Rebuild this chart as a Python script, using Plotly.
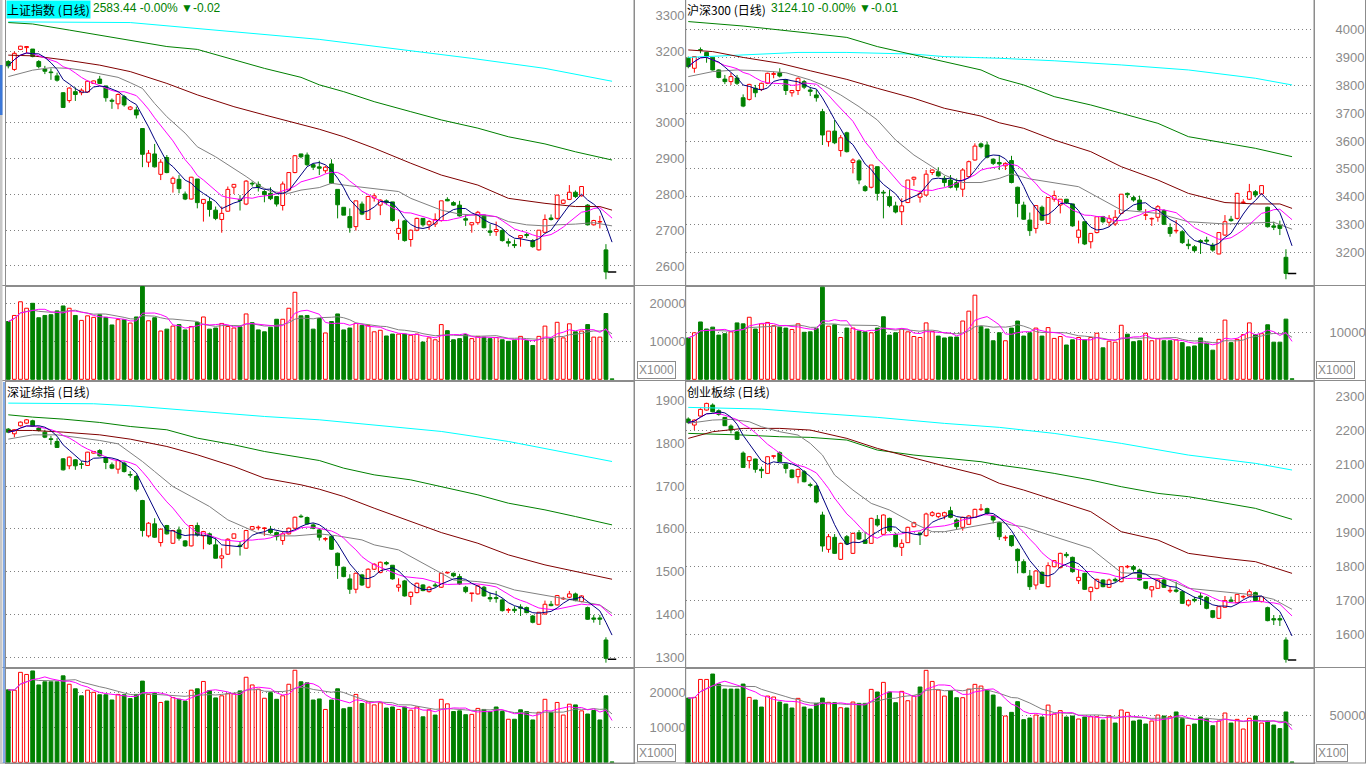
import plotly.graph_objects as go
import pandas as pd

# ======================= DATA =======================
titles = ["上证指数 (日线)", "沪深300 (日线)", "深证综指 (日线)", "创业板综 (日线)"]
quotes = ["2583.44 -0.00% ▼-0.02", "3124.10 -0.00% ▼-0.01", "", ""]
vol_units = ["X1000", "X1000", "X1000", "X100"]

# ---- 上证指数 ----
open_a = [3171,3149,3205,3210,3206,3171,3150,3142,3131,3084, 3062,3087,3084,3086,3110,3122,3103,3063,3053,3073,
          3038,3036,2984,2890,2913,2856,2903,2831,2842,2801, 2787,2843,2775,2780,2756,2730,2753,2820,2786,2773,
          2831,2828,2808,2803,2794,2769,2812,2861,2913,2910, 2883,2877,2866,2885,2814,2764,2738,2710,2773,2730,
          2790,2770,2782,2779,2691,2726,2674,2700,2733,2715, 2717,2727,2786,2777,2770,2732,2715,2721,2742,2698,
          2696,2699,2668,2660,2679,2688,2671,2645,2694,2734, 2733,2775,2786,2806,2796,2770,2715,2723,2645,2583.44]
high_a = [3175,3199,3215,3214,3206,3175,3159,3152,3140,3086, 3099,3099,3096,3118,3118,3131,3103,3068,3082,3078,
          3047,3045,2984,2924,2941,2898,2910,2850,2854,2808, 2849,2843,2787,2792,2766,2766,2822,2828,2798,2840,
          2836,2836,2812,2820,2794,2836,2861,2910,2913,2917, 2887,2894,2880,2898,2814,2764,2761,2782,2780,2796,
          2803,2786,2786,2779,2730,2729,2702,2735,2733,2729, 2747,2782,2792,2781,2782,2744,2721,2754,2744,2717,
          2724,2705,2677,2674,2685,2693,2675,2700,2744,2744, 2798,2786,2826,2811,2822,2773,2729,2740,2661,2583.44]
low_a = [3152,3145,3203,3194,3183,3152,3136,3120,3115,3042, 3056,3061,3077,3084,3109,3108,3059,3039,3038,3045,
         3035,3012,2876,2876,2875,2840,2859,2805,2803,2784, 2786,2761,2724,2738,2728,2693,2752,2801,2755,2770,
         2822,2808,2778,2784,2766,2755,2809,2859,2901,2879, 2868,2854,2859,2830,2733,2742,2693,2699,2742,2730,
         2780,2742,2770,2724,2673,2668,2654,2697,2710,2701, 2709,2724,2781,2768,2738,2712,2693,2715,2705,2684,
         2684,2668,2654,2650,2654,2678,2651,2643,2693,2727, 2729,2773,2784,2790,2794,2713,2713,2705,2563,2583.44]
close_a = [3159,3194,3214,3213,3185,3157,3144,3140,3119,3043, 3097,3079,3091,3116,3117,3110,3070,3060,3079,3050,
           3044,3022,2912,2915,2877,2890,2861,2845,2816,2787, 2848,2777,2786,2758,2733,2747,2814,2828,2783,2837,
           2829,2820,2800,2788,2773,2829,2861,2908,2905,2883, 2876,2873,2876,2831,2771,2742,2707,2782,2745,2794,
           2796,2784,2777,2727,2705,2671,2700,2733,2715,2724, 2730,2782,2782,2770,2740,2728,2721,2750,2707,2694,
           2702,2671,2664,2657,2685,2685,2654,2700,2730,2730, 2798,2784,2806,2794,2822,2715,2727,2724,2583.46,2583.44]
vol_a = [15200,16800,20400,18700,20000,16200,16800,17000,18000,19300, 18700,16800,15500,16700,16300,17000,16300,14300,15700,15700,
         14800,16400,24400,15400,16200,12700,13200,14000,14400,13000, 13900,15000,16400,13200,13500,14700,13900,13500,13800,17200,
         14900,13000,12500,13700,15800,15800,18700,22900,16700,16800, 13200,16000,12200,15200,17200,13000,13500,14700,14200,14200,
         12500,12900,11400,11900,11900,11900,11600,11900,9800,10900, 10400,14400,12800,10400,10700,11800,10700,11300,11100,10700,
         11000,10400,10000,10300,11300,10200,8900,11300,14000,10700, 15000,10900,14600,12500,12700,14400,11100,11100,17300,100]
ma20_a_idx = [0,4,7,10,12,15,18,20,22,24,26,29,31,34,37,39,41,43,46,48,51,53,56,60,64,66,69,71,74,77,80,82,85,88,90,93,96,99]
ma20_a_val = [3129,3147,3154,3152,3147,3138,3127,3112,3096,3054,3017,2971,2933,2905,2873,2850,2826,2808,2803,2812,
              2819,2831,2824,2817,2808,2789,2770,2756,2745,2742,2738,2724,2715,2712,2715,2717,2721,2712]
ma60_a_idx = [0,4,10,15,20,26,31,37,42,48,51,55,60,66,71,77,82,88,93,97,99]
ma60_a_val = [3189,3187,3174,3161,3143,3110,3078,3045,3022,2994,2982,2961,2929,2887,2854,2826,2789,2775,2766,2766,2756]
ma120_a_idx = [0,4,10,15,20,26,31,37,42,48,51,55,60,66,71,77,82,88,93,99]
ma120_a_val = [3280,3276,3259,3245,3231,3213,3205,3177,3152,3127,3106,3087,3059,3031,3008,2985,2961,2941,2919,2896]
ma250_a_idx = [0,20,51,66,76,88,99]
ma250_a_val = [3282,3280,3233,3201,3180,3152,3116]

# ---- 沪深300 ----
open_b = [3898,3862,3929,3919,3900,3856,3823,3814,3827,3756, 3750,3790,3786,3808,3840,3846,3820,3774,3782,3814,
          3784,3766,3706,3598,3636,3566,3630,3523,3529,3436, 3434,3508,3416,3400,3367,3346,3379,3463,3398,3406,
          3487,3490,3466,3460,3451,3427,3472,3532,3590,3586, 3535,3523,3511,3530,3434,3370,3316,3286,3362,3304,
          3391,3370,3391,3374,3254,3310,3238,3271,3328,3308, 3302,3340,3412,3397,3388,3333,3320,3326,3350,3289,
          3277,3274,3229,3220,3242,3244,3226,3194,3262,3319, 3322,3379,3391,3418,3410,3362,3295,3298,3182,3124.10]
high_b = [3904,3906,3937,3921,3901,3858,3838,3846,3838,3768, 3806,3802,3810,3846,3850,3862,3823,3784,3829,3820,
          3794,3784,3716,3636,3676,3622,3634,3538,3535,3442, 3514,3508,3424,3424,3382,3394,3460,3472,3422,3496,
          3498,3506,3475,3478,3466,3502,3530,3592,3595,3598, 3538,3550,3524,3547,3436,3382,3343,3370,3368,3398,
          3422,3391,3391,3374,3314,3310,3268,3330,3331,3334, 3352,3409,3415,3404,3404,3355,3325,3370,3355,3304,
          3316,3280,3247,3226,3247,3256,3234,3273,3334,3331, 3414,3391,3446,3424,3440,3364,3310,3314,3211,3124.10]
low_b = [3862,3846,3916,3882,3854,3826,3805,3802,3802,3722, 3746,3758,3780,3805,3826,3829,3766,3760,3766,3787,
         3762,3742,3586,3580,3589,3544,3559,3484,3445,3418, 3430,3386,3322,3362,3340,3298,3377,3439,3379,3402,
         3478,3472,3436,3430,3422,3400,3470,3530,3574,3538, 3514,3496,3496,3448,3326,3317,3259,3268,3313,3302,
         3382,3340,3374,3292,3232,3226,3214,3268,3304,3292, 3295,3337,3395,3382,3350,3316,3295,3310,3298,3256,
         3268,3230,3211,3199,3194,3230,3202,3193,3259,3310, 3318,3374,3388,3398,3408,3289,3280,3262,3103,3124.10]
close_b = [3868,3904,3927,3906,3856,3829,3814,3832,3808,3726, 3804,3774,3808,3844,3843,3834,3782,3782,3826,3794,
           3779,3756,3622,3636,3594,3612,3562,3532,3460,3422, 3514,3412,3413,3368,3345,3367,3460,3470,3412,3481,
           3496,3475,3451,3434,3434,3496,3526,3582,3580,3542, 3520,3518,3520,3451,3376,3319,3278,3368,3316,3397,
           3404,3391,3379,3295,3280,3230,3268,3328,3310,3322, 3326,3409,3407,3388,3352,3335,3322,3364,3301,3268,
           3279,3235,3224,3206,3237,3240,3208,3271,3310,3314, 3412,3381,3418,3406,3440,3292,3290,3286,3124.11,3124.10]
vol_b = [8800,9900,12200,10700,11100,9400,9700,10100,12000,11800, 13200,10700,11800,12100,11400,11100,10900,10600,11800,10000,
         10100,10800,19600,11300,11600,8900,10900,10900,10300,10100, 9900,10900,13300,9400,9900,10700,10100,9100,8900,12000,
         10200,9200,8800,9000,9000,12400,14500,17900,11200,10700, 8200,9900,8200,10900,12400,9200,9900,10900,9200,11000,
         8700,9100,7300,8400,8900,8400,8900,9800,6700,8100, 7900,11500,9600,8000,8200,9800,8200,8700,8200,8200,
         8400,7800,6900,7100,8800,7700,6200,8500,12600,7800, 8500,9500,12000,9500,9700,11600,7900,7900,12800,100]
ma20_b_idx = [0,4,8,12,16,20,22,25,28,31,34,37,40,42,45,48,51,53,56,60,64,67,71,77,82,88,93,96,99]
ma20_b_val = [3832,3850,3856,3853,3846,3820,3802,3766,3724,3676,3604,3550,3508,3478,3451,3451,3466,3482,3464,3451,
              3436,3400,3352,3340,3310,3302,3307,3308,3283]
ma60_b_idx = [0,4,9,15,20,26,31,37,42,48,51,55,60,66,71,77,82,88,93,97,99]
ma60_b_val = [3928,3922,3901,3880,3853,3822,3790,3754,3718,3690,3666,3646,3604,3562,3508,3460,3412,3379,3374,3374,3358]
ma120_b_idx = [0,9,20,26,31,37,42,48,51,55,60,66,71,77,82,88,93,99]
ma120_b_val = [4030,4014,3988,3973,3940,3910,3886,3856,3826,3802,3760,3730,3700,3664,3616,3592,3574,3544]
ma250_b_idx = [0,9,15,18,26,37,42,51,60,71,82,93,99]
ma250_b_val = [3901,3910,3916,3919,3919,3913,3904,3898,3889,3874,3856,3826,3802]

# ---- 深证综指 ----
open_c = [1833.1,1822.2,1840.9,1847.1,1852.6,1835.5,1826.1,1810.5,1804.3,1763.7, 1747.4,1761.4,1752.0,1748.2,1777.0,1783.2,1766.9,1749.7,1739.6,1753.6,
          1727.1,1722.4,1666.3,1583.7,1611.8,1568.1,1607.9,1566.5,1597.7,1572.0, 1560.3,1607.9,1583.7,1588.4,1562.7,1531.5,1540.8,1578.2,1561.9,1554.9,
          1599.3,1602.4,1600.9,1599.3,1591.5,1572.8,1588.4,1601.6,1629.7,1626.6, 1609.4,1597.7,1575.9,1582.1,1543.2,1510.4,1483.2,1459.0,1492.5,1463.7,
          1505.8,1498.0,1521.4,1515.1,1463.7,1478.5,1441.9,1451.2,1469.1,1453.5, 1469.1,1463.7,1497.2,1496.4,1488.6,1463.7,1448.9,1448.1,1463.7,1439.5,
          1439.5,1434.1,1409.9,1412.2,1417.7,1416.1,1396.6,1377.2,1401.3,1423.9, 1422.4,1436.4,1440.3,1448.1,1430.2,1416.1,1392.0,1392.0,1340.5,1295.3]
high_c = [1835.5,1833.0,1851.0,1856.5,1855.0,1839.3,1831.6,1817.5,1812.1,1765.2, 1769.1,1763.0,1758.3,1780.0,1782.0,1786.3,1767.7,1755.2,1761.4,1757.5,
          1734.9,1726.3,1667.9,1616.0,1625.0,1601.6,1609.4,1597.7,1605.5,1574.0, 1609.0,1614.9,1595.4,1591.5,1578.0,1554.9,1578.2,1589.0,1570.5,1597.7,
          1606.0,1607.9,1604.0,1607.0,1593.8,1594.0,1603.2,1629.0,1634.0,1629.0, 1613.3,1600.1,1580.6,1583.7,1544.8,1512.0,1494.0,1498.0,1494.9,1508.0,
          1519.8,1523.7,1524.5,1515.1,1484.7,1480.9,1453.5,1474.6,1470.7,1466.8, 1474.6,1497.0,1499.5,1497.9,1494.9,1466.8,1450.4,1469.1,1466.8,1451.2,
          1455.1,1438.0,1415.4,1419.3,1423.9,1418.5,1399.0,1406.0,1432.5,1431.7, 1445.7,1441.2,1455.1,1451.2,1444.9,1418.5,1399.0,1399.0,1346.8,1295.3]
low_c = [1823.6,1814.0,1839.3,1845.5,1838.0,1827.6,1812.1,1796.5,1789.5,1736.4, 1739.6,1738.0,1740.4,1747.0,1776.0,1769.1,1739.6,1739.6,1729.0,1731.7,
         1719.3,1687.3,1582.0,1580.0,1578.9,1558.8,1586.8,1564.9,1572.8,1558.0, 1559.0,1582.1,1552.5,1562.7,1531.0,1508.0,1539.3,1577.0,1537.7,1553.3,
         1598.0,1597.0,1583.7,1588.4,1573.0,1562.7,1586.8,1600.0,1625.8,1609.4, 1599.3,1572.8,1571.2,1551.0,1483.2,1487.0,1448.1,1449.6,1466.8,1461.3,
         1504.3,1496.4,1515.1,1481.6,1453.5,1441.9,1422.4,1449.6,1454.3,1451.2, 1462.9,1462.0,1495.6,1487.1,1469.1,1449.6,1429.9,1446.5,1441.9,1429.3,
         1427.7,1406.8,1403.6,1403.6,1396.6,1402.8,1379.4,1376.0,1400.0,1419.3, 1420.8,1434.0,1438.0,1431.0,1428.6,1387.3,1381.0,1375.6,1287.5,1295.3]
close_c = [1826.1,1831.6,1849.5,1854.9,1839.3,1830.0,1814.4,1809.0,1790.3,1738.0, 1767.6,1747.4,1750.5,1779.3,1780.9,1770.7,1755.2,1741.9,1759.9,1734.0,
           1725.6,1692.8,1596.2,1613.3,1580.6,1599.3,1588.4,1596.2,1578.2,1560.3, 1607.9,1586.0,1593.8,1565.0,1531.5,1537.0,1575.9,1588.4,1558.8,1596.2,
           1605.5,1604.0,1602.4,1591.5,1582.1,1588.4,1601.6,1627.3,1628.1,1611.8, 1601.6,1580.6,1577.5,1552.5,1514.3,1488.6,1459.0,1496.4,1469.1,1505.8,
           1517.5,1522.1,1518.2,1483.2,1469.1,1443.4,1452.0,1473.0,1455.9,1463.7, 1466.8,1496.4,1498.7,1490.2,1471.5,1453.5,1450.4,1466.8,1443.4,1436.4,
           1437.2,1409.1,1411.5,1409.1,1414.6,1404.4,1381.8,1405.2,1423.9,1420.8, 1444.2,1438.0,1448.1,1432.5,1443.4,1388.9,1388.9,1388.9,1297.7,1295.3]
vol_c = [20700,20600,25700,25100,26100,22100,23000,23000,23000,24700, 22300,21000,19000,20600,20000,19300,19300,17800,19400,19300,
         18200,19400,23200,19400,19700,17100,17500,18500,18000,17500, 20600,21000,23100,20500,18400,19000,19600,19600,20400,24300,
         22100,20900,18300,19900,18000,19000,22300,26300,23000,22700, 17800,18100,15100,17800,21000,15300,15700,19400,16800,17300,
         16400,17000,15500,15800,15100,15800,14900,15800,13000,15000, 13500,18000,16700,14500,14700,13600,13700,15400,15100,14500,
         15800,14500,12300,12300,15000,14500,12100,14300,18000,14300, 17100,13500,16600,16400,14700,13800,14800,12100,19000,100]
ma20_c_idx = [0,4,8,12,15,18,20,22,24,27,30,33,36,39,41,44,47,51,54,58,60,64,67,70,73,77,80,83,88,93,97,99]
ma20_c_val = [1809.7,1819.8,1819.8,1812.0,1806.6,1798.8,1778.5,1757.5,1734.1,1699.0,1675.7,1652.3,1621.1,1601.6,1590.0,1583.7,
              1583.7,1588.4,1583.7,1574.3,1562.7,1551.0,1527.6,1504.2,1480.8,1476.9,1471.5,1457.4,1445.7,1432.5,1422.4,1402.9]
ma60_c_idx = [0,4,9,15,20,26,31,37,42,48,51,55,60,66,71,77,82,88,93,99]
ma60_c_val = [1830.0,1830.0,1826.1,1819.8,1809.7,1792.6,1773.1,1745.8,1718.5,1703.0,1692.8,1675.7,1648.4,1617.2,1591.5,1566.5,1539.3,1515.9,1500.3,1482.4]
ma120_c_idx = [0,4,9,15,20,26,31,37,42,48,51,55,60,66,71,77,82,88,93,99]
ma120_c_val = [1866.6,1861.2,1856.5,1848.7,1839.3,1831.6,1812.1,1796.5,1780.9,1767.6,1759.8,1741.9,1726.3,1714.6,1699.0,1679.6,1660.1,1644.5,1628.9,1609.4]
ma250_c_idx = [0,14,20,31,42,51,60,71,82,93,99]
ma250_c_val = [1893.9,1892.4,1887.7,1874.4,1862.7,1854.9,1843.2,1827.7,1804.3,1773.1,1757.5]

# ---- 创业板综 ----
open_d = [2233.1,2215.4,2241.9,2259.5,2274.2,2257.6,2238.0,2212.5,2194.9,2133.0, 2110.6,2115.5,2085.1,2073.3,2123.3,2134.1,2100.8,2083.1,2063.5,2078.2,
          2040.0,2036.1,1950.8,1849.9,1885.2,1820.5,1887.1,1838.1,1898.9,1877.3, 1867.5,1938.1,1894.0,1941.0,1894.0,1855.8,1869.5,1916.5,1896.9,1890.1,
          1949.9,1946.0,1948.0,1963.6,1936.1,1914.6,1923.4,1944.0,1966.5,1969.5, 1948.0,1928.3,1883.2,1890.1,1849.9,1813.6,1771.5,1745.0,1782.3,1740.1,
          1798.9,1796.0,1835.2,1826.4,1757.8,1779.3,1725.4,1735.2,1759.7,1738.2, 1761.7,1754.8,1798.0,1798.9,1789.1,1754.8,1730.3,1735.2,1759.7,1727.4,
          1730.3,1725.4,1686.2,1702.9,1712.7,1708.8,1669.6,1647.0,1679.4,1701.0, 1693.1,1709.8,1712.7,1722.5,1696.0,1678.4,1646.1,1646.1,1583.3,1524.5]
high_d = [2238.0,2232.0,2264.5,2281.0,2279.1,2261.5,2239.0,2217.4,2197.8,2137.9, 2124.2,2116.5,2093.0,2123.3,2126.2,2138.0,2102.8,2085.1,2087.0,2083.1,
          2045.9,2039.0,1960.6,1895.0,1895.0,1869.5,1892.0,1898.9,1906.7,1901.8, 1943.0,1950.8,1952.7,1943.0,1898.9,1879.3,1916.5,1931.2,1901.8,1957.7,
          1962.6,1957.7,1960.6,1975.3,1941.0,1946.0,1950.8,1969.5,1983.2,1972.4, 1950.8,1931.2,1891.0,1892.0,1852.8,1820.5,1789.1,1789.1,1785.2,1811.7,
          1818.5,1840.0,1842.0,1828.4,1789.1,1781.3,1740.1,1763.6,1761.7,1763.6, 1766.6,1800.0,1803.8,1803.8,1793.1,1756.8,1742.1,1761.7,1763.6,1739.1,
          1754.8,1728.4,1703.0,1710.7,1722.5,1712.7,1671.6,1682.0,1712.7,1710.7, 1718.6,1714.7,1732.3,1725.4,1712.7,1681.3,1656.8,1656.8,1591.2,1524.5]
low_d = [2218.3,2200.7,2240.0,2258.0,2252.6,2242.9,2213.0,2190.9,2171.3,2089.0, 2088.0,2075.3,2059.5,2072.0,2116.5,2107.0,2073.3,2058.7,2043.9,2046.8,
         2032.2,1985.1,1843.0,1840.0,1836.1,1818.5,1862.6,1836.1,1877.3,1865.6, 1866.5,1916.5,1892.0,1901.8,1855.8,1830.3,1868.5,1914.6,1862.6,1887.1,
         1946.0,1941.0,1938.1,1941.0,1906.7,1904.8,1921.4,1943.0,1962.6,1950.8, 1926.3,1877.3,1874.4,1857.7,1779.3,1779.3,1730.3,1732.3,1748.0,1738.2,
         1797.0,1794.0,1825.4,1781.3,1748.0,1730.3,1699.0,1732.3,1738.2,1736.1, 1752.8,1753.0,1794.0,1784.2,1757.8,1732.3,1708.8,1733.2,1736.1,1721.5,
         1722.5,1689.1,1681.3,1694.1,1686.2,1673.5,1647.1,1646.0,1678.0,1694.1, 1692.0,1705.0,1710.7,1697.0,1694.1,1638.2,1627.4,1624.5,1516.7,1524.5]
close_d = [2223.3,2230.1,2261.5,2279.1,2254.6,2246.8,2213.5,2200.7,2173.3,2090.9, 2122.3,2085.1,2081.2,2122.3,2125.3,2107.6,2088.0,2061.6,2085.1,2048.8,
           2038.0,1989.1,1859.7,1887.1,1838.1,1867.5,1865.6,1896.9,1880.3,1867.5, 1941.0,1921.4,1950.8,1904.8,1857.7,1867.5,1914.6,1928.3,1893.0,1953.8,
           1957.7,1955.7,1957.7,1944.0,1916.5,1944.0,1948.0,1967.5,1968.5,1955.7, 1936.1,1887.1,1885.2,1860.7,1816.6,1781.3,1740.1,1786.2,1749.9,1801.9,
           1816.6,1838.1,1831.3,1784.2,1767.6,1732.3,1738.2,1761.7,1740.1,1759.7, 1757.8,1798.9,1799.9,1791.1,1759.7,1735.2,1740.1,1759.7,1738.2,1729.4,
           1726.4,1691.1,1699.0,1699.0,1708.8,1676.4,1650.0,1681.3,1699.0,1697.0, 1717.6,1711.7,1725.4,1699.0,1710.7,1640.2,1642.1,1642.1,1526.5,1524.5]
vol_d = [67900,68600,87600,87600,93300,82700,77400,77400,77400,82700, 68600,65800,58400,70000,69000,63700,61600,57400,67600,58400,
         56300,62300,67900,63400,63000,57700,57400,63700,62300,62300, 77100,74300,84500,74300,63000,75000,65100,70000,79600,97200,
         85500,76400,70000,75700,68300,68300,77400,82400,80600,76400, 71100,58400,48900,52800,64100,45100,46800,50000,47900,60500,
         51000,54600,47900,48900,45800,47900,48200,48200,44700,49300, 41500,55300,52800,43600,44700,40500,43600,50000,48900,48200,
         53200,46100,39100,40500,47900,46500,38700,43600,52100,41500, 45400,35200,46500,48900,41500,43600,39400,35600,53200,300]
ma20_d_idx = [0,4,7,10,12,15,18,20,22,24,27,30,33,37,40,42,45,48,51,53,55,60,66,71,77,82,88,93,96,99]
ma20_d_val = [2220.3,2230.1,2232.1,2225.2,2210.5,2195.8,2186.0,2161.5,2127.2,2068.4,2024.3,1985.1,1965.5,1926.3,1901.8,
              1901.8,1911.6,1921.4,1931.2,1921.4,1916.5,1887.1,1852.8,1781.3,1774.4,1735.2,1725.4,1715.6,1702.9,1673.5]
ma60_d_idx = [0,4,9,15,20,26,31,37,42,48,51,55,60,66,71,77,82,88,93,99]
ma60_d_val = [2176.2,2195.8,2205.6,2205.6,2200.7,2176.2,2146.8,2117.4,2094.9,2068.4,2044.0,2024.3,1994.9,1960.6,1901.8,1877.3,1838.1,1823.4,1813.6,1779.3]
ma120_d_idx = [0,4,9,15,20,26,31,37,42,48,51,55,60,66,71,77,82,88,93,99]
ma120_d_val = [2190.9,2189.0,2186.0,2181.1,2179.2,2171.3,2141.9,2127.2,2117.4,2107.6,2097.8,2088.0,2073.3,2053.7,2034.1,2014.5,2004.7,1985.1,1970.4,1938.1]
ma250_d_idx = [0,12,20,31,42,51,60,71,82,93,99]
ma250_d_val = [2267.4,2262.5,2251.7,2238.0,2220.3,2208.6,2190.9,2161.5,2127.2,2102.7,2083.1]

# axis labels / grid
price_ticks = [[2600,2700,2800,2900,3000,3100,3200,3300],
               [3200,3300,3400,3500,3600,3700,3800,3900,4000],
               [1300,1400,1500,1600,1700,1800,1900],
               [1600,1700,1800,1900,2000,2100,2200,2300]]
price_grid = [[2600,2700,2800,2900,3000,3100,3200],
              [3200,3300,3400,3500,3600,3700,3800,3900,4000],
              [1300,1400,1500,1600,1700,1800],
              [1600,1700,1800,1900,2000,2100,2200]]
vol_ticks = [[10000,20000],[10000],[10000,20000],[50000]]

# ======================= STYLE / GEOMETRY =======================
W, H = 1366, 768
RED, GRN, NAVY, MAG, GRAY, MAROON, MAGREEN, CYAN = "#FF0000", "#008000", "#000080", "#FF00FF", "#808080", "#800000", "#008000", "#00FFFF"
BORDER = "#8C8C8C"
XR = [-0.42, 102.6]
# pixel boxes: (left, right, price_top, price_bottom, vol_bottom)
boxes = [(5.7, 634, 0, 285.5, 380),
         (685.7, 1314, 0, 285.5, 380),
         (5.7, 634, 381.5, 667.5, 763),
         (685.7, 1314, 381.5, 667.5, 763)]
price_ranges = [[2545.5, 3343], [3080.6, 4107.6], [1276.2, 1944.4], [1502.4, 2343.5]]
vol_ranges = [[-184, 24684], [-149, 19957], [-200, 27086], [-740, 100211]]

panels = [
    dict(o=open_a, h=high_a, l=low_a, c=close_a, v=vol_a,
         mas=[(ma250_a_idx, ma250_a_val, CYAN), (ma120_a_idx, ma120_a_val, MAGREEN),
              (ma60_a_idx, ma60_a_val, MAROON), (ma20_a_idx, ma20_a_val, GRAY)]),
    dict(o=open_b, h=high_b, l=low_b, c=close_b, v=vol_b,
         mas=[(ma250_b_idx, ma250_b_val, CYAN), (ma120_b_idx, ma120_b_val, MAGREEN),
              (ma60_b_idx, ma60_b_val, MAROON), (ma20_b_idx, ma20_b_val, GRAY)]),
    dict(o=open_c, h=high_c, l=low_c, c=close_c, v=vol_c,
         mas=[(ma250_c_idx, ma250_c_val, CYAN), (ma120_c_idx, ma120_c_val, MAGREEN),
              (ma60_c_idx, ma60_c_val, MAROON), (ma20_c_idx, ma20_c_val, GRAY)]),
    dict(o=open_d, h=high_d, l=low_d, c=close_d, v=vol_d,
         mas=[(ma250_d_idx, ma250_d_val, CYAN), (ma120_d_idx, ma120_d_val, MAGREEN),
              (ma60_d_idx, ma60_d_val, MAROON), (ma20_d_idx, ma20_d_val, GRAY)]),
]

fig = go.Figure()
layout_axes = {}


def sfx(n):
    return "" if n == 1 else str(n)


for k, p in enumerate(panels):
    npx, nvx = 2 * k + 1, 2 * k + 2
    xa_p, ya_p = "x" + sfx(npx), "y" + sfx(npx)
    xa_v, ya_v = "x" + sfx(nvx), "y" + sfx(nvx)
    o, hi, lo, c, v = p["o"], p["h"], p["l"], p["c"], p["v"]
    n = len(c)
    idx = list(range(n))
    up = [i for i in idx if c[i] > o[i]]
    dn = [i for i in idx if c[i] < o[i]]
    flat = [i for i in idx if c[i] == o[i]]

    # wicks
    for group, col in ((up, RED), (dn, GRN)):
        xs, ys = [], []
        for i in group:
            top, bot = max(o[i], c[i]), min(o[i], c[i])
            if hi[i] > top:
                xs += [i, i, None]; ys += [hi[i], top, None]
            if lo[i] < bot:
                xs += [i, i, None]; ys += [bot, lo[i], None]
        fig.add_trace(go.Scatter(x=xs, y=ys, mode="lines", line=dict(color=col, width=1),
                                 xaxis=xa_p, yaxis=ya_p, hoverinfo="skip", showlegend=False))
    # bodies
    fig.add_trace(go.Bar(x=up, base=[o[i] for i in up], y=[c[i] - o[i] for i in up], width=0.62,
                         marker=dict(color="white", line=dict(color=RED, width=1)),
                         xaxis=xa_p, yaxis=ya_p, hoverinfo="skip", showlegend=False))
    fig.add_trace(go.Bar(x=dn, base=[c[i] for i in dn], y=[o[i] - c[i] for i in dn], width=0.62,
                         marker=dict(color=GRN, line=dict(color=GRN, width=1)),
                         xaxis=xa_p, yaxis=ya_p, hoverinfo="skip", showlegend=False))
    fig.add_trace(go.Scatter(x=flat, y=[c[i] for i in flat], mode="markers",
                             marker=dict(symbol="line-ew", size=6, line=dict(color="black", width=1.5)),
                             xaxis=xa_p, yaxis=ya_p, hoverinfo="skip", showlegend=False))

    # moving averages
    for mi, mv, col in p["mas"]:
        fig.add_trace(go.Scatter(x=mi, y=mv, mode="lines", line=dict(color=col, width=1),
                                 xaxis=xa_p, yaxis=ya_p, hoverinfo="skip", showlegend=False))
    cs = pd.Series(c)
    for win, col in ((10, MAG), (5, NAVY)):
        fig.add_trace(go.Scatter(x=idx, y=cs.rolling(win, min_periods=1).mean().tolist(), mode="lines",
                                 line=dict(color=col, width=1),
                                 xaxis=xa_p, yaxis=ya_p, hoverinfo="skip", showlegend=False))

    # volume
    vup = up + [i for i in flat if i > 0 and c[i] >= c[i - 1]]
    vdn = dn + [i for i in flat if i > 0 and c[i] < c[i - 1]]
    fig.add_trace(go.Bar(x=vup, y=[v[i] for i in vup], width=0.62,
                         marker=dict(color="white", line=dict(color=RED, width=1)),
                         xaxis=xa_v, yaxis=ya_v, hoverinfo="skip", showlegend=False))
    fig.add_trace(go.Bar(x=vdn, y=[v[i] for i in vdn], width=0.62,
                         marker=dict(color=GRN, line=dict(color=GRN, width=1)),
                         xaxis=xa_v, yaxis=ya_v, hoverinfo="skip", showlegend=False))
    vs = pd.Series(v)
    for win, col in ((10, GRAY), (5, MAG)):
        fig.add_trace(go.Scatter(x=idx, y=vs.rolling(win, min_periods=1).mean().tolist(), mode="lines",
                                 line=dict(color=col, width=1),
                                 xaxis=xa_v, yaxis=ya_v, hoverinfo="skip", showlegend=False))

    # axes
    L, R, T, B, VB = boxes[k]
    xdom = [L / W, R / W]
    common_x = dict(domain=xdom, range=XR, showticklabels=False, showgrid=False, zeroline=False,
                    showline=True, mirror=True, linecolor=BORDER, linewidth=1, ticks="",
                    fixedrange=True, automargin=False)
    layout_axes["xaxis" + sfx(npx)] = dict(common_x, anchor=ya_p)
    layout_axes["xaxis" + sfx(nvx)] = dict(common_x, anchor=ya_v)
    layout_axes["yaxis" + sfx(npx)] = dict(
        domain=[1 - B / H, 1 - T / H], range=price_ranges[k], anchor=xa_p, side="right",
        tickmode="array", tickvals=price_ticks[k], ticktext=[str(t) for t in price_ticks[k]],
        ticks="", ticklabelstandoff=18, tickfont=dict(family="Liberation Sans", size=13, color="#8A8A8A"),
        showgrid=False, zeroline=False, showline=True, mirror=True, linecolor=BORDER, linewidth=1,
        minor=dict(tickmode="array", tickvals=price_grid[k], showgrid=True, gridcolor="#808080",
                   griddash="1px,3px", gridwidth=1, ticks=""),
        fixedrange=True, automargin=False)
    layout_axes["yaxis" + sfx(nvx)] = dict(
        domain=[1 - VB / H, 1 - B / H], range=vol_ranges[k], anchor=xa_v, side="right",
        tickmode="array", tickvals=vol_ticks[k], ticktext=[str(t) for t in vol_ticks[k]],
        ticks="", ticklabelstandoff=12, tickfont=dict(family="Liberation Sans", size=13, color="#8A8A8A"),
        showgrid=True, gridcolor="#808080", griddash="1px,3px", gridwidth=1,
        zeroline=False, showline=True, mirror=True, linecolor=BORDER, linewidth=1,
        fixedrange=True, automargin=False)

# ======================= TEXT =======================
annotations = []
title_pos = [(6, 0), (686, 0), (6, 382), (686, 382)]
quote_pos = [(92, 0), (770, 0)]
for k, t in enumerate(titles):
    x0, y0 = title_pos[k]
    annotations.append(dict(text=t, x=x0 / W, y=1 - y0 / H, xref="paper", yref="paper",
                            xanchor="left", yanchor="top", showarrow=False, borderpad=0,
                            bgcolor=CYAN if k == 0 else "rgba(0,0,0,0)",
                            font=dict(family="Noto Sans CJK SC", size=12, color="black")))
for k, q in enumerate(quotes):
    if q:
        x0, y0 = quote_pos[k]
        annotations.append(dict(text=q, x=x0 / W, y=1 - y0 / H, xref="paper", yref="paper",
                                xanchor="left", yanchor="top", showarrow=False, borderpad=0,
                                font=dict(family="Liberation Sans, DejaVu Sans", size=12, color=GRN)))
unit_pos = [(637, 380), (1316, 380), (637, 763), (1316, 763)]
for k, u in enumerate(vol_units):
    x0, y0 = unit_pos[k]
    annotations.append(dict(text=u, x=x0 / W, y=1 - (y0 - 1) / H, xref="paper", yref="paper",
                            xanchor="left", yanchor="bottom", showarrow=False, borderpad=1,
                            bordercolor=BORDER, borderwidth=1,
                            font=dict(family="Liberation Sans", size=12, color="#8A8A8A")))

shapes = []
for yy in (285.5, 380.5, 667.5, 763):
    shapes.append(dict(type="line", xref="paper", yref="paper", x0=0, x1=1, y0=1 - yy / H, y1=1 - yy / H,
                       line=dict(color=BORDER, width=1)))
for xx in (634, 685.7, 1314, 1365.5):
    shapes.append(dict(type="line", xref="paper", yref="paper", x0=xx / W, x1=xx / W, y0=1 - 763 / H, y1=1,
                       line=dict(color=BORDER, width=1)))
shapes.append(dict(type="rect", xref="paper", yref="paper", x0=0, x1=2.5 / W, y0=1 - 763 / H, y1=1,
                   fillcolor="#C8C8C8", line=dict(width=0)))
shapes.append(dict(type="rect", xref="paper", yref="paper", x0=0, x1=2.5 / W, y0=1 - 115 / H, y1=1 - 65 / H,
                   fillcolor="#3C78D8", line=dict(width=0)))
shapes.append(dict(type="line", xref="paper", yref="paper", x0=4 / W, x1=4 / W, y0=1 - 763 / H, y1=1 - 382 / H,
                   line=dict(color="#5A8FE0", width=1.5)))

fig.update_layout(width=W, height=H, margin=dict(l=0, r=0, t=0, b=0, autoexpand=False),
                  paper_bgcolor="white", plot_bgcolor="white", barmode="overlay",
                  showlegend=False, hovermode=False, annotations=annotations, shapes=shapes,
                  **layout_axes)

fig.write_html("out.html",
               config={"displayModeBar": False, "staticPlot": True},
               post_script="document.body.style.margin='0';document.body.style.overflow='hidden';")
